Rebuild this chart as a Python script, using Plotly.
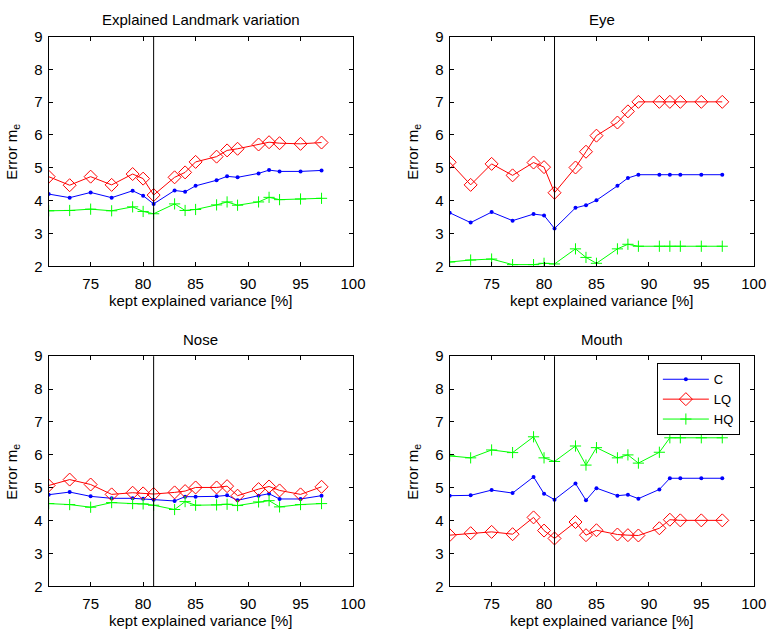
import plotly.graph_objects as go

# ---------------- data ----------------
variance = [71, 73, 75, 77, 79, 80, 81, 83, 84, 85, 87, 88, 89, 91, 92, 93, 95, 97]
split_x = 81

titles = ["Explained Landmark variation", "Eye", "Nose", "Mouth"]
series_names = ["C", "LQ", "HQ"]

landmark_C = [4.20, 4.09, 4.25, 4.09, 4.30, 4.15, 3.90, 4.31, 4.27, 4.45, 4.62, 4.74, 4.71, 4.83, 4.93, 4.89, 4.89, 4.92]
landmark_LQ = [4.73, 4.47, 4.73, 4.48, 4.81, 4.67, 4.17, 4.71, 4.86, 5.18, 5.34, 5.53, 5.58, 5.71, 5.78, 5.75, 5.73, 5.77]
landmark_HQ = [3.69, 3.70, 3.74, 3.69, 3.81, 3.67, 3.60, 3.90, 3.70, 3.73, 3.87, 3.96, 3.86, 3.96, 4.10, 4.03, 4.05, 4.07]

eye_C = [3.63, 3.33, 3.65, 3.39, 3.59, 3.55, 3.15, 3.78, 3.86, 4.01, 4.45, 4.69, 4.79, 4.79, 4.79, 4.79, 4.79, 4.79]
eye_LQ = [5.17, 4.48, 5.12, 4.77, 5.16, 5.02, 4.24, 5.01, 5.49, 5.98, 6.38, 6.72, 7.01, 7.01, 7.01, 7.01, 7.01, 7.01]
eye_HQ = [2.13, 2.19, 2.22, 2.05, 2.05, 2.09, 2.07, 2.53, 2.27, 2.09, 2.53, 2.67, 2.61, 2.61, 2.61, 2.61, 2.61, 2.61]

nose_C = [4.79, 4.87, 4.74, 4.68, 4.68, 4.67, 4.64, 4.60, 4.73, 4.73, 4.74, 4.77, 4.62, 4.76, 4.82, 4.66, 4.66, 4.76]
nose_LQ = [5.07, 5.25, 5.10, 4.80, 4.85, 4.83, 4.81, 4.86, 4.90, 5.01, 5.01, 5.05, 4.76, 4.96, 5.04, 4.92, 4.80, 5.03]
nose_HQ = [4.52, 4.49, 4.41, 4.55, 4.52, 4.51, 4.47, 4.34, 4.58, 4.47, 4.48, 4.50, 4.46, 4.57, 4.61, 4.42, 4.49, 4.52]

mouth_C = [4.76, 4.77, 4.93, 4.84, 5.33, 4.82, 4.64, 5.13, 4.62, 4.99, 4.76, 4.79, 4.67, 4.95, 5.29, 5.29, 5.29, 5.29]
mouth_LQ = [3.56, 3.62, 3.66, 3.59, 4.10, 3.70, 3.46, 3.96, 3.56, 3.71, 3.58, 3.56, 3.55, 3.77, 4.03, 4.01, 4.01, 4.01]
mouth_HQ = [5.97, 5.91, 6.15, 6.07, 6.55, 5.91, 5.80, 6.27, 5.69, 6.22, 5.91, 6.00, 5.75, 6.08, 6.52, 6.52, 6.52, 6.52]

x_ticks = [75, 80, 85, 90, 95, 100]
y_ticks = [2, 3, 4, 5, 6, 7, 8, 9]
x_label = "kept explained variance [%]"
y_label = "Error m<sub>e</sub>"

panels = [
    (landmark_C, landmark_LQ, landmark_HQ),
    (eye_C, eye_LQ, eye_HQ),
    (nose_C, nose_LQ, nose_HQ),
    (mouth_C, mouth_LQ, mouth_HQ),
]

# ---------------- style ----------------
W, H = 780, 638
FONT = "Arial, 'Liberation Sans', Helvetica, sans-serif"
FS = 15
colors = ["#0000ff", "#ff0000", "#00ff00"]
markers = [
    dict(symbol="circle", size=4, color="#0000ff", line=dict(width=0)),
    dict(symbol="diamond-open", size=10, color="#ff0000", line=dict(width=1, color="#ff0000")),
    dict(symbol="cross-thin-open", size=8, color="#00ff00", line=dict(width=1, color="#00ff00")),
]

# axes boxes in pixels (left, right, top, bottom)
boxes = [
    (49.5, 359.0, 28.3, 264.3),
    (457.3, 766.5, 28.3, 264.3),
    (49.5, 359.0, 356.7, 593.3),
    (457.3, 766.5, 356.7, 593.3),
]

fig = go.Figure()
layout = dict(
    width=W, height=H,
    margin=dict(l=0, r=0, t=0, b=0),
    paper_bgcolor="white", plot_bgcolor="white",
    font=dict(family=FONT, size=FS, color="black"),
    showlegend=True,
    legend=dict(
        x=668 / W, y=1 - 364 / H, xanchor="left", yanchor="top",
        bgcolor="white", bordercolor="black", borderwidth=1,
        font=dict(size=13), tracegroupgap=0, itemwidth=46, entrywidth=48,
    ),
)

annotations = []
for i, (vals, box) in enumerate(zip(panels, boxes)):
    l, r, t, b = box
    xa = "xaxis" if i == 0 else f"xaxis{i+1}"
    ya = "yaxis" if i == 0 else f"yaxis{i+1}"
    xr = "x" if i == 0 else f"x{i+1}"
    yr = "y" if i == 0 else f"y{i+1}"
    layout[xa] = dict(
        domain=[l / W, r / W], anchor=yr, range=[71, 100],
        tickvals=x_ticks, ticks="inside", ticklen=4, tickcolor="black",
        showline=True, linecolor="black", linewidth=1, mirror="ticks",
        showgrid=False, zeroline=False, ticklabelstandoff=4,
        tickfont=dict(size=FS),
    )
    layout[ya] = dict(
        domain=[1 - b / H, 1 - t / H], anchor=xr, range=[2, 9],
        tickvals=y_ticks, ticks="inside", ticklen=4, tickcolor="black",
        showline=True, linecolor="black", linewidth=1, mirror="ticks",
        showgrid=False, zeroline=False, ticklabelstandoff=2,
        tickfont=dict(size=FS),
    )
    for k, (name, ys) in enumerate(zip(series_names, vals)):
        fig.add_trace(go.Scatter(
            x=variance, y=ys, mode="lines+markers", name=name,
            line=dict(color=colors[k], width=1), marker=markers[k],
            xaxis=xr, yaxis=yr, showlegend=(i == 3),
        ))
    fig.add_shape(type="line", xref=xr, yref=f"{yr} domain",
                  x0=split_x, x1=split_x, y0=0, y1=1,
                  line=dict(color="black", width=1))
    cx = (l + r) / 2 / W
    annotations.append(dict(text=titles[i], x=cx, y=1 - (t - 17) / H,
                            xref="paper", yref="paper", xanchor="center", yanchor="middle",
                            showarrow=False, font=dict(size=FS)))
    annotations.append(dict(text=x_label, x=cx, y=1 - (b + 35) / H,
                            xref="paper", yref="paper", xanchor="center", yanchor="middle",
                            showarrow=False, font=dict(size=FS)))
    annotations.append(dict(text=y_label, x=(l - 37) / W, y=1 - (t + b) / 2 / H,
                            xref="paper", yref="paper", xanchor="center", yanchor="middle",
                            textangle=-90, showarrow=False, font=dict(size=FS)))

layout["annotations"] = annotations
fig.update_layout(**layout)
fig.write_html("out.html")
